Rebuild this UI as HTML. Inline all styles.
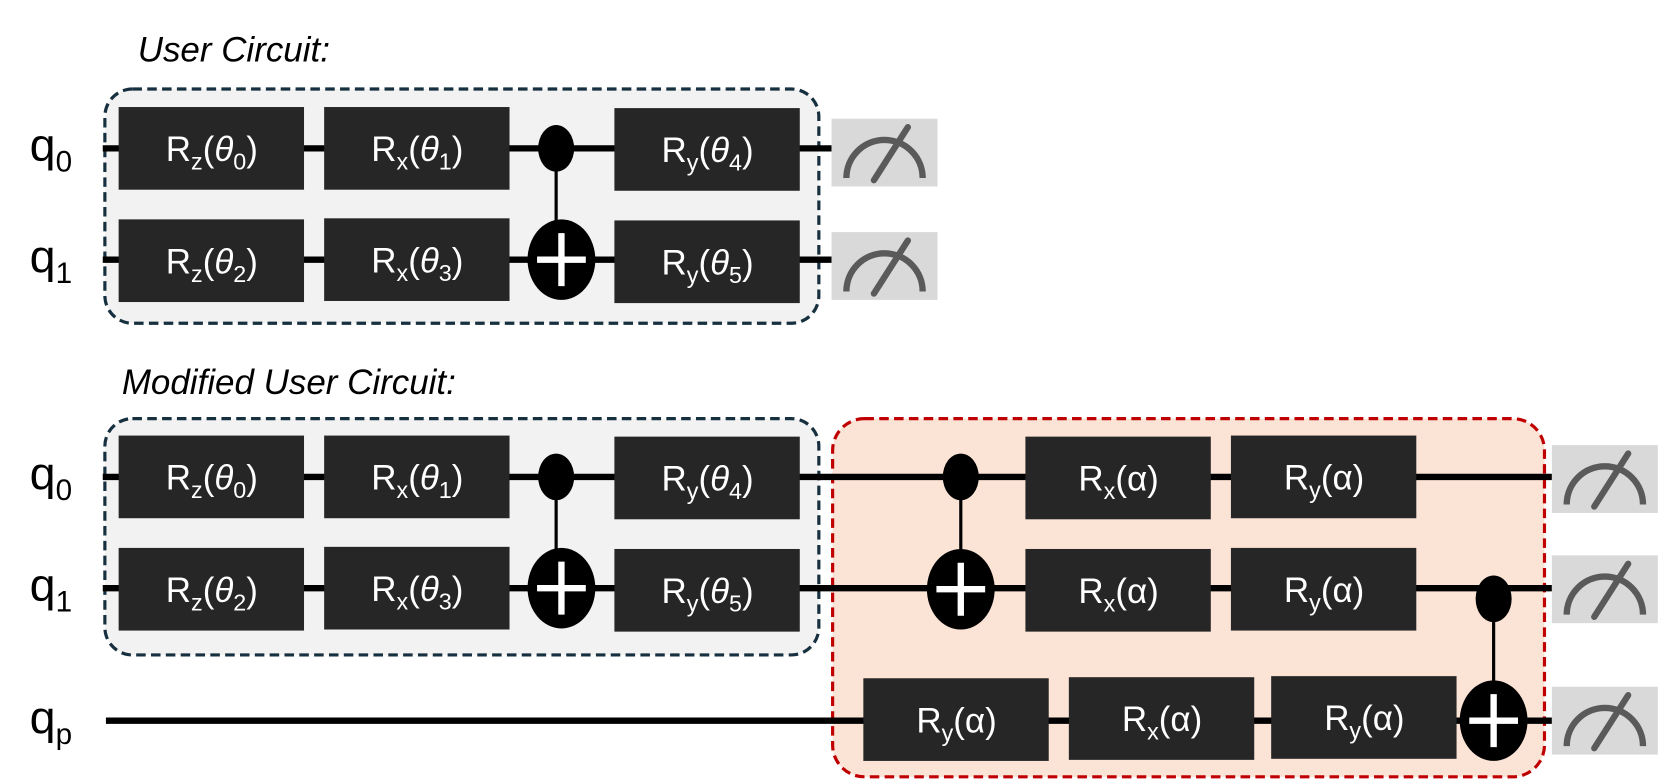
<!DOCTYPE html>
<html><head><meta charset="utf-8"><style>
html,body{margin:0;padding:0;background:#fff;width:1661px;height:780px;overflow:hidden}
svg{display:block}
.g{fill:#262626}
.t{fill:#fff;font-family:"Liberation Sans",sans-serif;font-size:33px}
.l{font-family:"Liberation Sans",sans-serif;fill:#000}
.w{stroke:#000;stroke-width:6}
</style></head><body>
<svg width="1661" height="780" viewBox="0 0 1568 736" preserveAspectRatio="none" xmlns="http://www.w3.org/2000/svg">
<defs>
<g id="m"><rect x="0" y="0" width="100" height="64" fill="#d9d9d9"/>
<path d="M14 56 A36 36 0 0 1 86 56" fill="none" stroke="#5a5a5a" stroke-width="6"/>
<line x1="40" y1="58" x2="72" y2="8" stroke="#5a5a5a" stroke-width="6" stroke-linecap="round"/></g>
</defs>
<text x="130" y="58" class="l" font-size="33" font-style="italic">User Circuit:</text>
<text x="115" y="372" class="l" font-size="33" font-style="italic">Modified User Circuit:</text>

<rect x="99" y="84" width="674" height="221" rx="26" fill="#f2f2f2" stroke="#17303f" stroke-width="3" stroke-dasharray="9,5"/>
<rect x="99" y="395" width="674" height="223" rx="26" fill="#f2f2f2" stroke="#17303f" stroke-width="3" stroke-dasharray="9,5"/>
<rect x="786" y="395" width="672" height="338" rx="30" fill="#fbe3d6" stroke="#c00000" stroke-width="3" stroke-dasharray="9,5"/>

<line class="w" x1="97" y1="140" x2="785" y2="140"/>
<line class="w" x1="97" y1="245" x2="785" y2="245"/>
<line class="w" x1="97" y1="450" x2="1465" y2="450"/>
<line class="w" x1="97" y1="555" x2="1465" y2="555"/>
<line class="w" x1="100" y1="680" x2="1465" y2="680"/>

<g class="l" font-size="44">
<text x="28" y="152">q<tspan font-size="28" dy="10">0</tspan></text>
<text x="28" y="257">q<tspan font-size="28" dy="10">1</tspan></text>
<text x="28" y="462">q<tspan font-size="28" dy="10">0</tspan></text>
<text x="28" y="567">q<tspan font-size="28" dy="10">1</tspan></text>
<text x="28" y="692">q<tspan font-size="28" dy="10">p</tspan></text>
</g>

<g>
<line x1="525" y1="140" x2="525" y2="245" stroke="#000" stroke-width="3"/>
<ellipse cx="525" cy="140" rx="17" ry="22"/>
<ellipse cx="530" cy="245" rx="32" ry="38"/>
<path d="M530 220V270M507 245H553" stroke="#fff" stroke-width="6"/>
<line x1="525" y1="450" x2="525" y2="555" stroke="#000" stroke-width="3"/>
<ellipse cx="525" cy="450" rx="17" ry="22"/>
<ellipse cx="530" cy="555" rx="32" ry="38"/>
<path d="M530 530V580M507 555H553" stroke="#fff" stroke-width="6"/>
<line x1="907" y1="450" x2="907" y2="555" stroke="#000" stroke-width="3"/>
<ellipse cx="907" cy="450" rx="17" ry="22"/>
<ellipse cx="907" cy="556" rx="32" ry="38"/>
<path d="M907 531V581M884 556H930" stroke="#fff" stroke-width="6"/>
<line x1="1410" y1="565" x2="1410" y2="680" stroke="#000" stroke-width="3"/>
<ellipse cx="1410" cy="565" rx="17" ry="22"/>
<ellipse cx="1410" cy="680" rx="32" ry="38"/>
<path d="M1410 655V705M1387 680H1433" stroke="#fff" stroke-width="6"/>
</g>

<g>
<rect class="g" x="112" y="101" width="175" height="78"/>
<rect class="g" x="306" y="101" width="175" height="78"/>
<rect class="g" x="580" y="102" width="175" height="78"/>
<rect class="g" x="112" y="207" width="175" height="78"/>
<rect class="g" x="306" y="206" width="175" height="78"/>
<rect class="g" x="580" y="208" width="175" height="78"/>
<rect class="g" x="112" y="411" width="175" height="78"/>
<rect class="g" x="306" y="411" width="175" height="78"/>
<rect class="g" x="580" y="412" width="175" height="78"/>
<rect class="g" x="112" y="517" width="175" height="78"/>
<rect class="g" x="306" y="516" width="175" height="78"/>
<rect class="g" x="580" y="518" width="175" height="78"/>
<rect class="g" x="968" y="412" width="175" height="78"/>
<rect class="g" x="1162" y="411" width="175" height="78"/>
<rect class="g" x="968" y="518" width="175" height="78"/>
<rect class="g" x="1162" y="517" width="175" height="78"/>
<rect class="g" x="815" y="640" width="175" height="78"/>
<rect class="g" x="1009" y="639" width="175" height="78"/>
<rect class="g" x="1200" y="638" width="175" height="78"/>
</g>
<g class="t" text-anchor="middle">
<text x="200" y="152">R<tspan font-size="22" dy="8">z</tspan><tspan dy="-8">(</tspan><tspan font-style="italic">θ</tspan><tspan font-size="22" dy="8">0</tspan><tspan dy="-8">)</tspan></text>
<text x="394" y="152">R<tspan font-size="22" dy="8">x</tspan><tspan dy="-8">(</tspan><tspan font-style="italic">θ</tspan><tspan font-size="22" dy="8">1</tspan><tspan dy="-8">)</tspan></text>
<text x="668" y="153">R<tspan font-size="22" dy="8">y</tspan><tspan dy="-8">(</tspan><tspan font-style="italic">θ</tspan><tspan font-size="22" dy="8">4</tspan><tspan dy="-8">)</tspan></text>
<text x="200" y="258">R<tspan font-size="22" dy="8">z</tspan><tspan dy="-8">(</tspan><tspan font-style="italic">θ</tspan><tspan font-size="22" dy="8">2</tspan><tspan dy="-8">)</tspan></text>
<text x="394" y="257">R<tspan font-size="22" dy="8">x</tspan><tspan dy="-8">(</tspan><tspan font-style="italic">θ</tspan><tspan font-size="22" dy="8">3</tspan><tspan dy="-8">)</tspan></text>
<text x="668" y="259">R<tspan font-size="22" dy="8">y</tspan><tspan dy="-8">(</tspan><tspan font-style="italic">θ</tspan><tspan font-size="22" dy="8">5</tspan><tspan dy="-8">)</tspan></text>
<text x="200" y="462">R<tspan font-size="22" dy="8">z</tspan><tspan dy="-8">(</tspan><tspan font-style="italic">θ</tspan><tspan font-size="22" dy="8">0</tspan><tspan dy="-8">)</tspan></text>
<text x="394" y="462">R<tspan font-size="22" dy="8">x</tspan><tspan dy="-8">(</tspan><tspan font-style="italic">θ</tspan><tspan font-size="22" dy="8">1</tspan><tspan dy="-8">)</tspan></text>
<text x="668" y="463">R<tspan font-size="22" dy="8">y</tspan><tspan dy="-8">(</tspan><tspan font-style="italic">θ</tspan><tspan font-size="22" dy="8">4</tspan><tspan dy="-8">)</tspan></text>
<text x="200" y="568">R<tspan font-size="22" dy="8">z</tspan><tspan dy="-8">(</tspan><tspan font-style="italic">θ</tspan><tspan font-size="22" dy="8">2</tspan><tspan dy="-8">)</tspan></text>
<text x="394" y="567">R<tspan font-size="22" dy="8">x</tspan><tspan dy="-8">(</tspan><tspan font-style="italic">θ</tspan><tspan font-size="22" dy="8">3</tspan><tspan dy="-8">)</tspan></text>
<text x="668" y="569">R<tspan font-size="22" dy="8">y</tspan><tspan dy="-8">(</tspan><tspan font-style="italic">θ</tspan><tspan font-size="22" dy="8">5</tspan><tspan dy="-8">)</tspan></text>
<text x="1056" y="463">R<tspan font-size="22" dy="8">x</tspan><tspan dy="-8">(α)</tspan></text>
<text x="1250" y="462">R<tspan font-size="22" dy="8">y</tspan><tspan dy="-8">(α)</tspan></text>
<text x="1056" y="569">R<tspan font-size="22" dy="8">x</tspan><tspan dy="-8">(α)</tspan></text>
<text x="1250" y="568">R<tspan font-size="22" dy="8">y</tspan><tspan dy="-8">(α)</tspan></text>
<text x="903" y="691">R<tspan font-size="22" dy="8">y</tspan><tspan dy="-8">(α)</tspan></text>
<text x="1097" y="690">R<tspan font-size="22" dy="8">x</tspan><tspan dy="-8">(α)</tspan></text>
<text x="1288" y="689">R<tspan font-size="22" dy="8">y</tspan><tspan dy="-8">(α)</tspan></text>
</g>

<use href="#m" x="785" y="112"/>
<use href="#m" x="785" y="219"/>
<use href="#m" x="1465" y="420"/>
<use href="#m" x="1465" y="524"/>
<use href="#m" x="1465" y="648"/>
</svg>
</body></html>
